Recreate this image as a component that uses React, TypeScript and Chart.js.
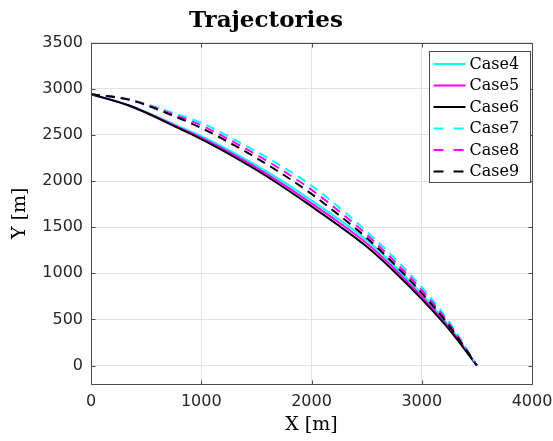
import React, { useEffect, useRef } from 'react';
import { Chart, registerables } from 'chart.js';

Chart.register(...registerables);

const xValues = [0, 350, 800, 1000, 1250, 1500, 1750, 2000, 2250, 2500, 2750, 3000, 3250, 3500];
const case4 = [2940, 2818, 2590, 2485, 2335, 2170, 1988, 1790, 1583, 1360, 1085, 775, 425, 0];
const case5 = [2940, 2816, 2580, 2470, 2315, 2145, 1959, 1757, 1549, 1325, 1052, 747, 407, 0];
const case6 = [2940, 2815, 2570, 2455, 2295, 2120, 1930, 1725, 1515, 1290, 1020, 720, 390, 0];
const case7 = [2940, 2882, 2715, 2630, 2482, 2320, 2145, 1950, 1715, 1455, 1168, 850, 470, 0];
const case8 = [2940, 2881, 2698, 2603, 2451, 2285, 2105, 1905, 1673, 1420, 1134, 818, 450, 0];
const case9 = [2940, 2880, 2680, 2575, 2420, 2250, 2065, 1860, 1630, 1385, 1100, 785, 430, 0];

const seriesLabels = ['Case4', 'Case5', 'Case6', 'Case7', 'Case8', 'Case9'];
const seriesValues = [case4, case5, case6, case7, case8, case9];
const seriesColors = ['#00ffff', '#ff00ff', '#000000', '#00ffff', '#ff00ff', '#000000'];
const seriesDashed = [false, false, false, true, true, true];

const xTicks = [0, 1000, 2000, 3000, 4000];
const yTicks = [0, 500, 1000, 1500, 2000, 2500, 3000, 3500];

const AXIS_COLOR = '#4a4a4a';

const boxPlugin = {
  id: 'matlabBox',
  afterDatasetsDraw(chart: any) {
    const { ctx, chartArea } = chart;
    const xs = chart.scales.x;
    const ys = chart.scales.y;
    const l = Math.round(chartArea.left) + 0.5;
    const r = Math.round(chartArea.right) + 0.5;
    const t = Math.round(chartArea.top) + 0.5;
    const b = Math.round(chartArea.bottom) + 0.5;
    ctx.save();
    ctx.strokeStyle = AXIS_COLOR;
    ctx.lineWidth = 1;
    ctx.setLineDash([]);
    ctx.strokeRect(l, t, r - l, b - t);
    const tl = 4;
    ctx.beginPath();
    xTicks.forEach((v) => {
      const px = Math.round(xs.getPixelForValue(v)) + 0.5;
      ctx.moveTo(px, b);
      ctx.lineTo(px, b - tl);
      ctx.moveTo(px, t);
      ctx.lineTo(px, t + tl);
    });
    yTicks.forEach((v) => {
      const py = Math.round(ys.getPixelForValue(v)) + 0.5;
      ctx.moveTo(l, py);
      ctx.lineTo(l + tl, py);
      ctx.moveTo(r, py);
      ctx.lineTo(r - tl, py);
    });
    ctx.stroke();
    ctx.restore();
  },
};

const legendPlugin = {
  id: 'insideLegend',
  afterDraw(chart: any) {
    const { ctx, chartArea } = chart;
    const right = Math.round(chartArea.right) - 1.5;
    const top = Math.round(chartArea.top) + 8.5;
    const w = 101;
    const h = 131;
    const left = right - w;
    ctx.save();
    ctx.fillStyle = '#ffffff';
    ctx.fillRect(left, top, w, h);
    ctx.strokeStyle = AXIS_COLOR;
    ctx.lineWidth = 1;
    ctx.setLineDash([]);
    ctx.strokeRect(left, top, w, h);
    ctx.font = '16px "DejaVu Serif"';
    ctx.textBaseline = 'middle';
    ctx.textAlign = 'left';
    seriesLabels.forEach((label, i) => {
      const y = top + 12.5 + i * 21.5;
      ctx.beginPath();
      ctx.strokeStyle = seriesColors[i];
      ctx.lineWidth = 2;
      ctx.setLineDash(seriesDashed[i] ? [10, 10] : []);
      ctx.moveTo(left + 4, y);
      ctx.lineTo(left + 36, y);
      ctx.stroke();
      ctx.setLineDash([]);
      ctx.fillStyle = '#000000';
      ctx.fillText(label, left + 40, y + 0.5);
    });
    ctx.restore();
  },
};

export default function App() {
  const canvasRef = useRef<HTMLCanvasElement | null>(null);

  useEffect(() => {
    document.body.style.margin = '0';
    const canvas = canvasRef.current;
    if (!canvas) return;
    const datasets = seriesLabels.map((label, i) => ({
      label,
      data: xValues.map((x, j) => ({ x, y: seriesValues[i][j] })),
      borderColor: seriesColors[i],
      backgroundColor: seriesColors[i],
      borderWidth: 2,
      borderDash: seriesDashed[i] ? [9, 6] : [],
      pointRadius: 0,
      fill: false,
      cubicInterpolationMode: 'monotone' as const,
      order: seriesLabels.length - i,
    }));
    const chart = new Chart(canvas, {
      type: 'line',
      data: { datasets },
      options: {
        animation: false,
        responsive: true,
        maintainAspectRatio: false,
        devicePixelRatio: 1,
        layout: { padding: { left: 0, right: 21, top: 0, bottom: 0 } },
        plugins: {
          legend: { display: false },
          tooltip: { enabled: false },
          title: {
            display: true,
            text: 'Trajectories',
            color: '#000000',
            font: { family: '"DejaVu Serif"', size: 23, weight: 'bold' },
            padding: { top: 7, bottom: 8 },
          },
        },
        scales: {
          x: {
            type: 'linear',
            min: 0,
            max: 4000,
            afterBuildTicks: (scale: any) => {
              scale.ticks = xTicks.map((v) => ({ value: v }));
            },
            afterFit: (scale: any) => {
              scale.height = 57;
              scale.paddingLeft = 0;
              scale.paddingRight = 0;
            },
            grid: { color: '#e3e3e3', drawTicks: false, lineWidth: 1 },
            border: { display: false },
            ticks: {
              padding: 8,
              color: '#262626',
              font: { family: '"DejaVu Sans"', size: 16 },
              maxRotation: 0,
              callback: (v: any) => String(v),
            },
            title: {
              display: true,
              text: 'X [m]',
              color: '#000000',
              font: { family: '"DejaVu Serif"', size: 19 },
              padding: { top: 0, bottom: 5 },
            },
          },
          y: {
            type: 'linear',
            min: -200,
            max: 3500,
            afterBuildTicks: (scale: any) => {
              scale.ticks = yTicks.map((v) => ({ value: v }));
            },
            afterFit: (scale: any) => {
              scale.width = 91;
              scale.paddingTop = 0;
              scale.paddingBottom = 0;
            },
            grid: { color: '#e3e3e3', drawTicks: false, lineWidth: 1 },
            border: { display: false },
            ticks: {
              padding: 8,
              color: '#262626',
              font: { family: '"DejaVu Sans"', size: 16 },
              callback: (v: any) => String(v),
            },
            title: {
              display: true,
              text: 'Y [m]',
              color: '#000000',
              font: { family: '"DejaVu Serif"', size: 19 },
              padding: { top: 9, bottom: 0 },
            },
          },
        },
      },
      plugins: [boxPlugin, legendPlugin],
    });
    return () => chart.destroy();
  }, []);

  return (
    <div style={{ width: 553, height: 441, position: 'relative' }}>
      <canvas ref={canvasRef} />
    </div>
  );
}
